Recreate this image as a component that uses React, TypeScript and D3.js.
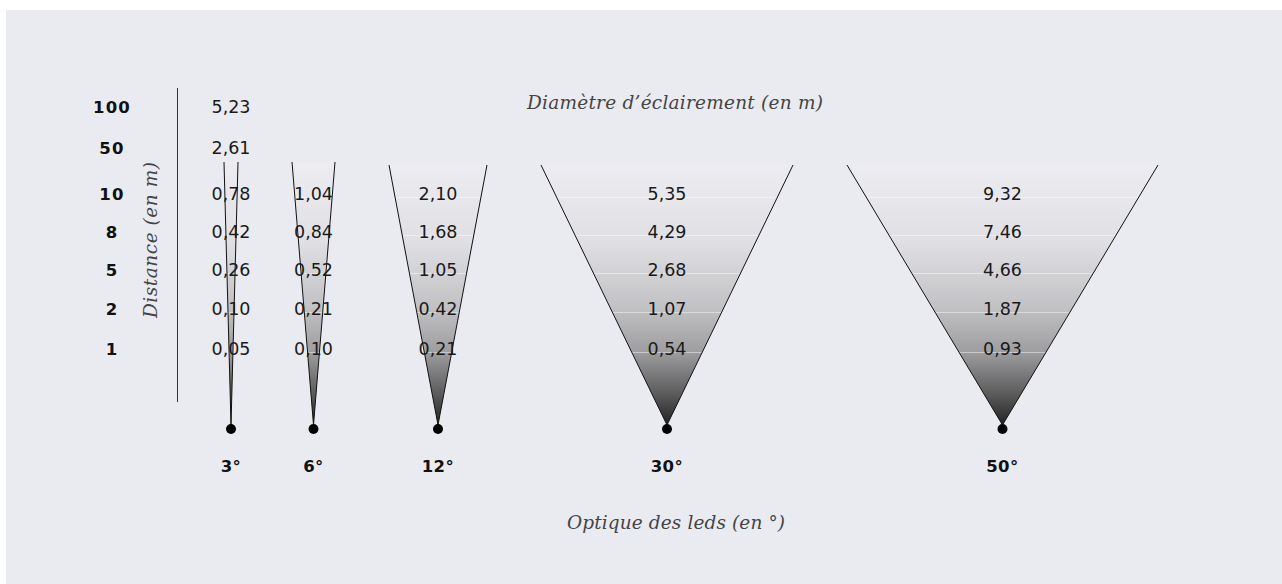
import React from "react";
import * as d3 from "d3";

// ---- data ----
const distances = [100, 50, 10, 8, 5, 2, 1];
const angles = [3, 6, 12, 30, 50];
const diam3 = ["5,23", "2,61", "0,78", "0,42", "0,26", "0,10", "0,05"];
const diam6 = [null, null, "1,04", "0,84", "0,52", "0,21", "0,10"];
const diam12 = [null, null, "2,10", "1,68", "1,05", "0,42", "0,21"];
const diam30 = [null, null, "5,35", "4,29", "2,68", "1,07", "0,54"];
const diam50 = [null, null, "9,32", "7,46", "4,66", "1,87", "0,93"];
const diameters = [diam3, diam6, diam12, diam30, diam50];

// ---- layout ----
const W = 1282;
const H = 584;
const BG = "#eaebf0";
const coneTopWidth = [14, 43, 98, 252, 311];
const coneTopY = [162, 162, 165, 165, 165];
const coneGap = 54;
const coneStartX = 224;
const apexY = 425;
const rowY = [107, 148, 194, 232, 270, 309, 349];

const sansFont = "'DejaVu Sans', 'Noto Sans', sans-serif";
const serifFont = "'DejaVu Serif', 'Liberation Serif', serif";

export default function App() {
  const lefts: number[] = [];
  let acc = coneStartX;
  coneTopWidth.forEach((w) => {
    lefts.push(acc);
    acc += w + coneGap;
  });
  const centers = lefts.map((l, i) => l + coneTopWidth[i] / 2);
  const xCenter = d3.scaleOrdinal<number, number>().domain(angles).range(centers);
  const yRow = d3.scaleOrdinal<number, number>().domain(distances).range(rowY);

  const line = d3.line();

  return (
    <svg
      width={W}
      height={H}
      style={{ position: "absolute", left: 0, top: 0, display: "block" }}
    >
      <defs>
        <linearGradient id="coneGrad" gradientUnits="userSpaceOnUse" x1="0" y1="163" x2="0" y2={apexY}>
          <stop offset="0" stopColor="#ededf1" />
          <stop offset="0.3" stopColor="#e0e0e4" />
          <stop offset="0.55" stopColor="#c2c2c5" />
          <stop offset="0.72" stopColor="#9e9ea0" />
          <stop offset="0.88" stopColor="#5c5c5d" />
          <stop offset="1" stopColor="#222222" />
        </linearGradient>
        {angles.map((a, i) => {
          const cx = xCenter(a);
          const hw = coneTopWidth[i] / 2;
          const ty = coneTopY[i];
          return (
            <clipPath id={`clip${i}`} key={a}>
              <path d={line([[cx - hw, ty], [cx + hw, ty], [cx, apexY]]) + "Z"} />
            </clipPath>
          );
        })}
      </defs>
      <rect x={0} y={0} width={W} height={H} fill="#ffffff" />
      <rect x={6} y={10} width={W - 6} height={H - 10} fill={BG} />

      {distances.map((d) => (
        <text
          key={d}
          x={112}
          y={yRow(d)}
          textAnchor="middle"
          dominantBaseline="central"
          fontFamily={sansFont}
          fontWeight={700}
          fontSize={16.5}
          letterSpacing={1.2}
          fill="#111"
        >
          {d}
        </text>
      ))}

      <text
        transform="translate(150,240) rotate(-90)"
        textAnchor="middle"
        dominantBaseline="central"
        fontFamily={serifFont}
        fontStyle="italic"
        fontSize={18.5}
        fill="#444"
        textLength={156}
      >
        Distance (en m)
      </text>
      <line x1={177.5} x2={177.5} y1={88} y2={402} stroke="#333" strokeWidth={1} />

      <text
        x={675}
        y={102}
        textAnchor="middle"
        dominantBaseline="central"
        fontFamily={serifFont}
        fontStyle="italic"
        fontSize={18.5}
        fill="#444"
        textLength={296}
      >
        Diamètre d’éclairement (en m)
      </text>

      {angles.map((a, i) => {
        const cx = xCenter(a);
        const hw = coneTopWidth[i] / 2;
        const ty = coneTopY[i];
        return (
          <g key={a}>
            <path
              d={line([[cx - hw, ty], [cx + hw, ty], [cx, apexY]]) + "Z"}
              fill="url(#coneGrad)"
              stroke="none"
            />
            <g clipPath={`url(#clip${i})`}>
              {distances.slice(2).map((d) => (
                <line
                  key={d}
                  x1={cx - hw}
                  x2={cx + hw}
                  y1={yRow(d) + 3.5}
                  y2={yRow(d) + 3.5}
                  stroke="#ffffff"
                  strokeOpacity={0.45}
                  strokeWidth={1}
                />
              ))}
            </g>
            <path
              d={line([[cx - hw, ty], [cx, apexY], [cx + hw, ty]]) || ""}
              fill="none"
              stroke="#111"
              strokeWidth={1}
            />
            <circle cx={cx} cy={apexY + 4} r={5} fill="#000" />
            <text
              x={cx}
              y={466}
              textAnchor="middle"
              dominantBaseline="central"
              fontFamily={sansFont}
              fontWeight={700}
              fontSize={16.5}
              letterSpacing={0.5}
              fill="#111"
            >
              {a}°
            </text>
            {diameters[i].map((v, j) =>
              v == null ? null : (
                <text
                  key={j}
                  x={cx}
                  y={yRow(distances[j])}
                  textAnchor="middle"
                  dominantBaseline="central"
                  fontFamily={sansFont}
                  fontSize={17.5}
                  fill="#1a1a1a"
                >
                  {v}
                </text>
              )
            )}
          </g>
        );
      })}

      <text
        x={676}
        y={522}
        textAnchor="middle"
        dominantBaseline="central"
        fontFamily={serifFont}
        fontStyle="italic"
        fontSize={18.5}
        fill="#444"
        textLength={218}
      >
        Optique des leds (en °)
      </text>
    </svg>
  );
}
